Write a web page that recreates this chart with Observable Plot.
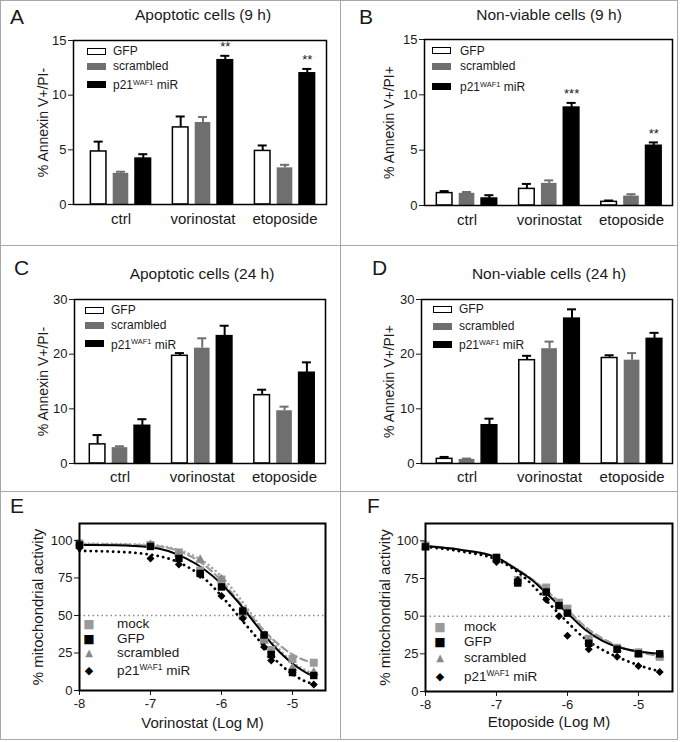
<!DOCTYPE html>
<html>
<head>
<meta charset="utf-8">
<script src="https://cdn.jsdelivr.net/npm/d3@7"></script>
<script src="https://cdn.jsdelivr.net/npm/@observablehq/plot@0.6"></script>
<style>
  html, body { margin: 0; padding: 0; background: #fff; }
  body { font-family: "Liberation Sans", Arial, sans-serif; color: #1a1a1a; }
  #fig { position: relative; width: 684px; height: 742px; overflow: hidden; background: #fff; }
  .panel { position: absolute; }
  .panel svg { display: block; }
  .t { position: absolute; white-space: nowrap; }
  .line { position: absolute; background: #a8a8a8; z-index: 5; }
  .sw { position: absolute; box-sizing: border-box; }
  sup { font-size: 0.62em; vertical-align: 0; position: relative; top: -0.62em; line-height: 0; }
</style>
</head>
<body>
<div id="fig"></div>
<script>
// ---------------- data ----------------
const categories = ["ctrl", "vorinostat", "etoposide"];
const seriesNames = ["GFP", "scrambled", "p21WAF1 miR"];

// A: Apoptotic cells (9 h), rows = series (GFP, scrambled, p21), cols = categories
const apo9Mean = [[4.85, 7.05, 4.9], [2.85, 7.5, 3.35], [4.2, 13.2, 12.0]];
const apo9Err  = [[0.9, 1.0, 0.5], [0.15, 0.5, 0.28], [0.4, 0.4, 0.4]];
const apo9Stars = ["", "**", "**"];

// B: Non-viable cells (9 h)
const nonv9Mean = [[1.12, 1.5, 0.33], [1.1, 2.0, 0.85], [0.63, 8.85, 5.4]];
const nonv9Err  = [[0.18, 0.45, 0.12], [0.12, 0.27, 0.17], [0.3, 0.42, 0.3]];
const nonv9Stars = ["", "***", "**"];

// C: Apoptotic cells (24 h)
const apo24Mean = [[3.5, 19.7, 12.5], [2.9, 21.1, 9.65], [6.9, 23.3, 16.6]];
const apo24Err  = [[1.7, 0.5, 1.0], [0.25, 1.8, 0.75], [1.2, 1.9, 1.9]];
const apo24Stars = ["", "", ""];

// D: Non-viable cells (24 h)
const nonv24Mean = [[0.85, 18.9, 19.3], [0.75, 21.0, 18.9], [7.0, 26.5, 22.8]];
const nonv24Err  = [[0.35, 0.8, 0.5], [0.15, 1.3, 1.3], [1.2, 1.7, 1.1]];
const nonv24Stars = ["", "", ""];

// E: vorinostat dose response
const doseSeries = ["mock", "GFP", "scrambled", "p21WAF1 miR"];
const vorLogM = [-8, -7, -6.6, -6.3, -6, -5.7, -5.4, -5.3, -5, -4.7];
const vorMock = [98, 97, 92, 80, 74, 52, 35, 27, 21, 18.5];
const vorGFP = [97, 96, 88, 78, 69, 53, 37, 24, 12, 10];
const vorScrambled = [98, 97, 91, 87, 74, 50, 33, 24, 15, 12];
const vorP21 = [95, 88, 84, 77, 63, 48, 29, 20, 12, 4];
const vorFitLogM = [-8, -7.5, -7, -6.75, -6.5, -6.25, -6, -5.75, -5.5, -5.25, -5, -4.75, -4.7];
const vorFitMock = [97.5, 97.3, 96.5, 95, 91, 84, 73, 59, 45, 33, 24, 19, 18.5];
const vorFitGFP = [97, 96.8, 95.5, 93, 88, 81, 71, 58, 43, 29, 18, 10.5, 9.5];
const vorFitScrambled = [98, 97.7, 97, 95.5, 92, 86, 76, 62, 46, 31, 19, 12, 11];
const vorFitP21 = [93, 92.5, 90.5, 88, 83, 75, 63, 49, 35, 21, 11, 5, 4.5];

// F: etoposide dose response
const etoLogM = [-8, -7, -6.7, -6.3, -6.12, -6, -5.7, -5.3, -5, -4.7];
const etoMock = [97, 88, 74, 69, 59, 55, 35, 29, 26, 23];
const etoGFP = [96, 89, 72, 66, 57, 52, 32, 28, 25, 25];
const etoScrambled = [96, 88, 73, 67, 58, 53, 33, 28, 25, 24];
const etoP21 = [96, 86, 74, 61, 50, 37, 28, 23, 17, 13];
const etoFitLogM = [-8, -7.5, -7, -6.75, -6.5, -6.25, -6, -5.75, -5.5, -5.25, -5, -4.75, -4.7];
const etoFitMock = [96.5, 94, 88.5, 82, 74.5, 65, 54, 43, 35, 29.5, 26, 24, 23.8];
const etoFitGFP = [96.5, 94, 89, 82, 74, 63, 52, 41, 33.5, 29, 26.5, 25.3, 25];
const etoFitScrambled = [96.5, 94, 89, 82.5, 74.5, 64, 53, 42, 34, 29.5, 26.5, 25, 24.8];
const etoFitP21 = [96, 93, 87.5, 81, 71, 58, 46, 35, 27.5, 22, 17.5, 14, 13.5];

// ---------------- helpers ----------------
const FONT = "'Liberation Sans', Arial, Helvetica, sans-serif";
const fig = document.getElementById("fig");
const GRAY = "#6f6f6f";

function addText(html, x, baseline, fs, anchor) {
  const d = document.createElement("div");
  d.className = "t";
  d.style.fontSize = fs + "px";
  d.style.lineHeight = fs + "px";
  d.style.left = x + "px";
  d.style.top = (baseline - 0.8465 * fs) + "px";
  if (anchor === "middle") d.style.transform = "translateX(-50%)";
  d.innerHTML = html;
  fig.appendChild(d);
  return d;
}
function addBox(cls, x, y, w, h, css) {
  const d = document.createElement("div");
  d.className = cls;
  Object.assign(d.style, {left: x + "px", top: y + "px", width: w + "px", height: h + "px"}, css || {});
  fig.appendChild(d);
}
function place(svg, left, top) {
  const w = document.createElement("div");
  w.className = "panel";
  w.style.left = left + "px";
  w.style.top = top + "px";
  w.appendChild(svg);
  fig.appendChild(w);
}
const labelHTML = s => s === "p21WAF1 miR" ? "p21<sup>WAF1</sup> miR" : s;

function barPanel(o) {
  const rows = [];
  seriesNames.forEach((s, si) => categories.forEach((c, ci) => rows.push({
    series: s, si, ci, v: o.mean[si][ci], top: o.mean[si][ci] + o.err[si][ci], star: si === 2 ? o.stars[ci] : ""
  })));
  const pos = d => d.ci + (d.si - 1) * 0.272;
  const hw = 0.095, cap = 0.055;
  const dark = rows.filter(d => d.si !== 1), gray = rows.filter(d => d.si === 1);
  return Plot.plot({
    width: o.width, height: o.height,
    marginLeft: o.ml, marginRight: o.mr, marginTop: o.mt, marginBottom: o.mb,
    style: {fontFamily: FONT, fontSize: "13px", color: "#1a1a1a", background: "transparent", overflow: "visible"},
    x: {domain: o.xDomain},
    y: {domain: [0, o.yMax]},
    color: {domain: seriesNames, range: ["#ffffff", GRAY, "#000000"]},
    marks: [
      Plot.ruleX(dark, {x: pos, y1: "v", y2: "top", stroke: "#000", strokeWidth: 2}),
      Plot.ruleY(dark, {y: "top", x1: d => pos(d) - cap, x2: d => pos(d) + cap, stroke: "#000", strokeWidth: 2}),
      Plot.ruleX(gray, {x: pos, y1: "v", y2: "top", stroke: GRAY, strokeWidth: 2}),
      Plot.ruleY(gray, {y: "top", x1: d => pos(d) - cap, x2: d => pos(d) + cap, stroke: GRAY, strokeWidth: 2}),
      Plot.rect(dark, {x1: d => pos(d) - hw, x2: d => pos(d) + hw, y1: 0, y2: "v", fill: "series", stroke: "#000", strokeWidth: 1.5}),
      Plot.rect(gray, {x1: d => pos(d) - hw, x2: d => pos(d) + hw, y1: 0, y2: "v", fill: "series"}),
      Plot.text(rows.filter(d => d.star), {x: pos, y: "top", text: "star", dy: -9, fontSize: 13}),
      Plot.axisY({ticks: o.yTicks, tickSize: 5, tickPadding: 2, label: null, fontSize: 13}),
      Plot.axisX({ticks: [0, 1, 2], tickFormat: i => categories[i], tickSize: 0, tickPadding: o.xPad, label: null, fontSize: 15}),
      Plot.frame({stroke: "#000", strokeWidth: 1.5}),
      Plot.text([o.yLabel], {text: d => d, frameAnchor: "left", textAnchor: "middle", lineAnchor: "middle", rotate: -90, dx: o.ldx, fontSize: 14})
    ]
  });
}

function dosePanel(o) {
  const pts = (xs, ys, s) => xs.map((x, i) => ({x, y: ys[i], series: s}));
  const fit = (xs, ys) => xs.map((x, i) => ({x, y: ys[i]}));
  return Plot.plot({
    width: o.width, height: o.height,
    marginLeft: o.ml, marginRight: o.mr, marginTop: o.mt, marginBottom: o.mb,
    style: {fontFamily: FONT, fontSize: "13px", color: "#1a1a1a", background: "transparent", overflow: "visible"},
    x: {domain: o.xDomain},
    y: {domain: [0, o.yMax]},
    marks: [
      Plot.ruleY([50], {stroke: "#8a8a8a", strokeWidth: 1.5, strokeDasharray: "1.5,3"}),
      Plot.line(fit(o.fitX, o.fitMock), {x: "x", y: "y", stroke: "#9a9a9a", strokeWidth: 2.2, strokeDasharray: "7,4", curve: "monotone-x"}),
      Plot.line(fit(o.fitX, o.fitScr), {x: "x", y: "y", stroke: "#a5a5a5", strokeWidth: 2.5, strokeDasharray: "0.1,4.5", strokeLinecap: "round", curve: "monotone-x"}),
      Plot.line(fit(o.fitX, o.fitGFP), {x: "x", y: "y", stroke: "#000", strokeWidth: 2, curve: "monotone-x"}),
      Plot.line(fit(o.fitX, o.fitP21), {x: "x", y: "y", stroke: "#000", strokeWidth: 2.8, strokeDasharray: "0.1,5.5", strokeLinecap: "round", curve: "monotone-x"}),
      Plot.dot(pts(o.x, o.mock, "mock"), {x: "x", y: "y", symbol: "square", fill: "#9a9a9a", r: 4.5}),
      Plot.dot(pts(o.x, o.scr, "scrambled"), {x: "x", y: "y", symbol: "triangle", fill: "#8a8a8a", r: 3.6}),
      Plot.dot(pts(o.x, o.gfp, "GFP"), {x: "x", y: "y", symbol: "square", fill: "#000", r: 4.2}),
      Plot.dot(pts(o.x, o.p21, "p21WAF1 miR"), {x: "x", y: "y", symbol: "diamond2", fill: "#000", r: 3.6}),
      Plot.axisY({ticks: [0, 25, 50, 75, 100], tickSize: 5, tickPadding: 2, label: null, fontSize: 13}),
      Plot.axisX({ticks: [-8, -7, -6, -5], tickFormat: d => String(d), tickSize: 5, tickPadding: 3, label: null, fontSize: 13}),
      Plot.frame({stroke: "#000", strokeWidth: 2}),
      Plot.text([o.yLabel], {text: d => d, frameAnchor: "left", textAnchor: "middle", lineAnchor: "middle", rotate: -90, dx: o.ldx, fontSize: 15}),
      Plot.text([o.xLabel], {text: d => d, frameAnchor: "bottom", textAnchor: "middle", lineAnchor: "middle", dy: o.xdy, fontSize: 15})
    ]
  });
}

// ---------------- panels ----------------
place(barPanel({mean: apo9Mean, err: apo9Err, stars: apo9Stars, yMax: 15, yTicks: [0, 5, 10, 15],
  width: 341, height: 245, ml: 73, mr: 15, mt: 40, mb: 41, xDomain: [-0.579, 2.506], xPad: 9,
  yLabel: "% Annexin V+/PI-", ldx: -30}), 0, 0);
place(barPanel({mean: nonv9Mean, err: nonv9Err, stars: nonv9Stars, yMax: 15, yTicks: [0, 5, 10, 15],
  width: 343, height: 245, ml: 83, mr: 12, mt: 39, mb: 40, xDomain: [-0.517, 2.499], xPad: 9,
  yLabel: "% Annexin V+/PI+", ldx: -35}), 341, 0);
place(barPanel({mean: apo24Mean, err: apo24Err, stars: apo24Stars, yMax: 30, yTicks: [0, 10, 20, 30],
  width: 341, height: 247, ml: 74, mr: 16, mt: 54, mb: 29, xDomain: [-0.553, 2.498], xPad: 8,
  yLabel: "% Annexin V+/PI-", ldx: -31}), 0, 245);
place(barPanel({mean: nonv24Mean, err: nonv24Err, stars: nonv24Stars, yMax: 30, yTicks: [0, 10, 20, 30],
  width: 343, height: 247, ml: 80, mr: 12, mt: 54, mb: 29, xDomain: [-0.552, 2.49], xPad: 8,
  yLabel: "% Annexin V+/PI+", ldx: -32}), 341, 245);
place(dosePanel({x: vorLogM, mock: vorMock, gfp: vorGFP, scr: vorScrambled, p21: vorP21,
  fitX: vorFitLogM, fitMock: vorFitMock, fitGFP: vorFitGFP, fitScr: vorFitScrambled, fitP21: vorFitP21,
  width: 341, height: 250, ml: 79, mr: 16, mt: 31, mb: 52, xDomain: [-8, -4.535], yMax: 111.3,
  yLabel: "% mitochondrial activity", ldx: -41.5, xLabel: "Vorinostat (Log M)", xdy: 33}), 0, 492);
place(dosePanel({x: etoLogM, mock: etoMock, gfp: etoGFP, scr: etoScrambled, p21: etoP21,
  fitX: etoFitLogM, fitMock: etoFitMock, fitGFP: etoFitGFP, fitScr: etoFitScrambled, fitP21: etoFitP21,
  width: 343, height: 250, ml: 84, mr: 12, mt: 31, mb: 51, xDomain: [-8, -4.52], yMax: 111.5,
  yLabel: "% mitochondrial activity", ldx: -40, xLabel: "Etoposide (Log M)", xdy: 31}), 341, 492);

// ---------------- panel letters & titles ----------------
addText("A", 10, 23.5, 21);
addText("B", 359, 23.5, 21);
addText("C", 14, 275, 21);
addText("D", 372, 275, 21);
addText("E", 10, 513, 21);
addText("F", 367, 513, 21);
addText("Apoptotic cells (9 h)", 203, 20.5, 15.5, "middle");
addText("Non-viable cells (9 h)", 549, 20.5, 15.5, "middle");
addText("Apoptotic cells (24 h)", 202, 279, 15.5, "middle");
addText("Non-viable cells (24 h)", 549, 279, 15.5, "middle");

// ---------------- bar legends ----------------
const swatchCss = [
  {background: "#fff", border: "1.4px solid #000"},
  {background: GRAY},
  {background: "#000"}
];
function barLegend(sx, tx, rowsY) {
  seriesNames.forEach((s, i) => {
    addBox("sw", sx, rowsY[i] - 3.5, 19, 7, swatchCss[i]);
    addText(labelHTML(s), tx, rowsY[i] + 4.3 + (i === 2 ? 1 : 0), 12);
  });
}
barLegend(87, 113, [51, 66, 84]);
barLegend(432, 460, [50.5, 66, 86]);
barLegend(85, 111, [310, 325, 343.5]);
barLegend(433, 459, [309, 326, 344]);

// ---------------- dose legends ----------------
const doseMarks = [
  {ch: "\u25A0", color: "#9a9a9a", fs: 12},
  {ch: "\u25A0", color: "#000", fs: 12},
  {ch: "\u25B2", color: "#8a8a8a", fs: 10},
  {ch: "\u25C6", color: "#000", fs: 11}
];
function doseLegend(mx, tx, rowsY) {
  doseSeries.forEach((s, i) => {
    const m = doseMarks[i];
    const d = addText(m.ch, mx, rowsY[i] + 0.36 * m.fs, m.fs, "middle");
    d.style.color = m.color;
    d.style.fontFamily = "DejaVu Sans";
    addText(labelHTML(s), tx, rowsY[i] + 4.8 + (i === 3 ? 1 : 0), 13.5);
  });
}
doseLegend(89, 117, [624, 638.5, 653, 670]);
doseLegend(440, 464, [627, 642, 657.5, 676]);

// ---------------- dividers / border ----------------
addBox("line", 0, 0, 678, 1);
addBox("line", 0, 0, 1, 740);
addBox("line", 677, 0, 1, 740);
addBox("line", 0, 739, 678, 1);
addBox("line", 340, 0, 1, 740);
addBox("line", 0, 245, 678, 1);
addBox("line", 0, 491, 678, 1);
</script>
</body>
</html>
